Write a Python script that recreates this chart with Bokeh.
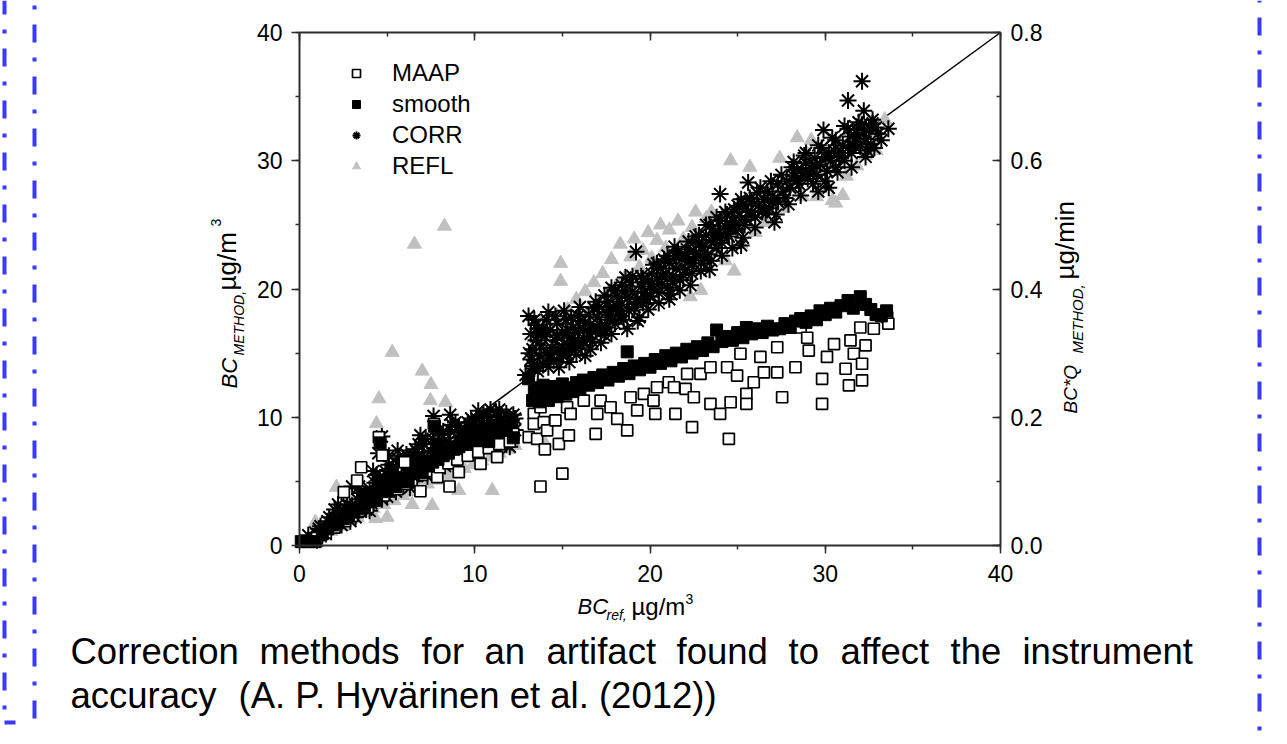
import math
from bokeh.plotting import figure
from bokeh.models import (Range1d, LinearAxis, SingleIntervalTicker, NumeralTickFormatter,
                          CustomJSTickFormatter, Legend, LegendItem, Label, Arrow)
from bokeh.embed import file_html
from bokeh.resources import INLINE

# ---------------- data ----------------
x_ticks = [0, 10, 20, 30, 40]
right_ticks = [0.0, 0.2, 0.4, 0.6, 0.8]
line_x = [0, 40]
line_y = [0, 40]

maap_low = [(0.3,0.3),(1.0,0.6),(1.5,1.0),(2.0,1.4),(2.53,4.16),(2.6,1.9),(3.0,2.3),(3.29,5.07),(3.4,2.7),
            (3.52,6.1),(3.9,3.0),(4.3,3.5),(4.53,8.45),(4.72,7.02),(4.8,3.9),(5.2,4.3),(5.5,5.7),(5.6,4.4),
            (6.0,4.8),(6.0,6.5),(6.4,5.1),(6.9,4.23),(7.0,5.5),(7.5,5.8),(7.67,9.49),(7.86,5.33),(8.0,6.1),
            (8.5,6.4),(8.56,4.6),(9.0,6.7),(9.09,5.72),(9.6,7.0),(10.2,7.3),(10.33,6.37),(10.8,7.6),
            (11.28,6.89),(11.4,7.9),(12.0,8.1),(12.2,8.7)]
maap_high = [(13.08,8.45),(13.37,10.27),(13.37,9.49),(13.56,8.32),(13.75,4.6),(13.75,10.78),(13.94,9.62),
             (14.0,7.5),(14.13,8.97),(14.6,9.75),(14.8,7.93),(15.0,5.6),(15.27,10.78),(15.37,8.58),
             (15.47,10.27),(16.22,11.3),(16.9,8.71),(16.99,10.27),(17.18,11.3),(17.75,10.78),(18.13,9.88),
             (18.7,8.97),(18.89,11.56),(19.27,10.53),(19.65,11.83),(20.2,11.3),(20.3,10.27),(20.4,12.34),
             (21.07,12.73),(21.37,12.34),(21.45,10.27),(22.03,12.21),(22.12,13.38),(22.4,9.23),(22.5,11.56),
             (22.88,13.38),(23.45,11.05),(23.45,13.9),(24.0,10.27),(24.4,13.9),(24.5,8.32),(24.6,11.17),
             (24.97,13.25),(25.16,14.95),(25.5,11.83),(25.5,11.05),(25.92,12.73),(26.3,14.7),(26.5,13.5),
             (27.26,13.5),(27.26,15.46),(27.54,11.56),(28.3,13.9),(28.6,17.0),(28.97,16.2),(29.06,15.2),
             (29.82,13.0),(29.82,11.05),(30.1,14.7),(30.5,15.7),(31.16,13.78),(31.35,12.48),(31.44,16.0),
             (31.63,14.95),(32.0,17.0),(32.1,12.87),(32.1,14.17),(32.3,15.6),(32.77,16.9),(33.53,17.8),
             (33.6,17.3)]

smooth_low = [(0.1,0.3),(0.5,0.3),(0.9,0.3),(1.3,0.9),(1.6,1.3),(1.9,1.6),(2.2,1.8),(2.5,2.1),(2.8,2.3),
              (3.1,2.6),(3.4,2.9),(3.6,4.0),(3.7,3.1),(4.0,3.4),(4.2,3.9),(4.4,3.6),(4.5,5.0),(4.6,8.0),
              (4.7,4.2),(5.0,4.3),(5.2,4.7),(5.3,5.6),(5.5,4.6),(5.8,5.0),(6.0,5.3),(6.2,5.0),(6.5,5.6),
              (6.7,6.6),(6.8,5.9),(7.0,5.7),(7.3,6.2),(7.6,6.5),(7.7,9.3),(7.9,6.7),(8.0,7.8),(8.2,7.0),
              (8.5,7.2),(8.8,7.5),(9.1,7.7),(9.4,8.0),(9.6,8.9),(9.7,8.2),(10.0,8.5),(10.3,8.7),(10.6,9.0),
              (10.8,8.1),(10.9,9.2),(11.2,8.8),(11.5,9.4),(11.8,9.1),(12.1,9.6),(12.2,8.4)]
smooth_high = [(13.07,13.0),(13.3,11.3),(13.4,12.0),(13.5,11.6),(13.6,12.3),(13.7,11.2),(13.8,11.9),
               (13.9,12.5),(14.0,11.5),(14.1,12.1),(14.2,11.3),(14.4,11.8),(14.5,12.4),(14.7,11.6),
               (14.9,12.0),(15.0,12.6),(15.2,11.8),(15.4,12.3),(15.6,12.0),(15.8,12.7),(16.0,12.2),
               (16.2,12.9),(16.5,12.5),(16.8,13.1),(17.0,12.7),(17.3,13.3),(17.6,12.9),(17.9,13.5),
               (18.2,13.2),(18.5,13.8),(18.7,15.1),(18.8,13.4),(19.1,14.0),(19.4,13.7),(19.7,14.2),
               (20.0,13.9),(20.3,14.5),(20.6,14.2),(20.9,14.8),(21.2,14.4),(21.5,15.0),(21.8,14.7),
               (22.1,15.3),(22.4,15.0),(22.7,15.5),(23.0,15.2),(23.3,15.8),(23.6,15.5),(23.8,16.8),
               (24.1,15.9),(24.4,16.3),(24.7,16.0),(25.0,16.6),(25.3,16.2),(25.5,17.0),(25.8,16.5),
               (26.1,16.9),(26.4,16.6),(26.7,17.1),(27.0,16.8),(27.4,16.9),(27.7,17.3),(28.0,17.0),
               (28.3,17.5),(28.6,17.7),(28.9,17.4),(29.2,17.9),(29.5,17.6),(29.7,18.3),(30.0,18.0),
               (30.3,18.5),(30.6,18.2),(30.9,18.7),(31.3,19.1),(31.6,18.5),(32.0,19.4),(32.3,18.8),
               (32.6,18.4),(32.9,18.0),(33.2,17.9),(33.5,18.3)]

corr_low = [(0.5,0.8),(0.9,1.0),(1.0,0.4),(1.2,1.5),(1.4,1.1),(1.6,1.9),(1.8,1.4),(2.0,2.2),(2.1,1.7),
            (2.2,3.2),(2.3,2.5),(2.5,2.0),(2.6,2.9),(2.8,2.4),(3.0,3.1),(3.0,4.6),(3.1,2.6),(3.3,3.6),
            (3.4,2.9),(3.6,3.3),(3.7,4.0),(3.9,3.5),(4.0,4.4),(4.2,3.8),(4.2,5.8),(4.3,4.9),(4.5,4.2),
            (4.5,7.2),(4.6,5.3),(4.7,8.5),(4.8,4.6),(4.9,5.8),(5.0,5.0),(5.1,6.3),(5.3,5.4),(5.4,4.5),
            (5.5,6.0),(5.6,6.8),(5.8,5.6),(5.9,4.9),(6.0,6.4),(6.1,7.1),(6.3,5.9),(6.4,5.2),(6.5,6.7),
            (6.6,7.5),(6.8,6.3),(6.9,5.6),(7.0,7.0),(7.1,7.9),(7.3,6.6),(7.4,6.0),(7.5,7.4),(7.6,8.3),
            (7.65,10.1),(7.8,7.0),(7.9,6.4),(8.0,7.8),(8.1,8.7),(8.3,7.3),(8.4,6.7),(8.5,8.1),(8.6,9.0),
            (8.8,7.6),(8.9,7.0),(9.0,8.4),(9.1,9.3),(9.3,7.9),(9.4,7.3),(9.5,8.7),(9.6,9.6),(9.8,8.2),
            (9.9,7.6),(10.0,9.0),(10.1,9.9),(10.2,7.9),(10.2,10.5),(10.3,8.5),(10.4,9.4),(10.5,10.2),
            (10.6,8.8),(10.8,9.7),(10.9,10.6),(11.0,8.0),(11.1,9.1),(11.3,10.0),(11.3,7.6),(11.5,8.5),
            (11.6,9.5),(11.8,10.3),(11.9,8.9),(12.0,7.7),(12.1,9.8),(12.3,9.0),
            (1.1,1.3),(1.5,0.9),(1.7,2.2),(2.4,1.6),(2.7,3.2),(3.2,2.2),(3.5,4.1),(3.8,2.8),(4.1,3.3),
            (4.4,5.5),(4.7,3.6),(5.2,5.9),(5.5,4.2),(5.7,6.3),(6.0,5.0),(6.2,6.9),(6.5,5.4),(6.7,7.3),
            (7.0,6.1),(7.2,8.3),(7.5,6.5),(7.7,7.6),(8.0,6.9),(8.2,8.9),(8.5,7.5),(8.7,9.4),(9.0,7.7),
            (9.2,8.8),(9.5,8.0),(9.7,9.2),(10.0,8.3),(10.3,9.7),(10.5,8.6),(10.7,10.1),(11.0,9.3),
            (11.2,10.4),(11.5,9.8),(11.7,8.4),(12.0,9.4),(12.2,10.2),(6.9,8.6),(5.1,7.0),(8.6,10.2),
            (2.0,2.8),(2.9,1.9),(3.4,4.6),(4.0,2.7),(5.0,3.8),(5.6,7.4),(6.3,4.5),(6.8,7.9),(7.3,5.4),
            (7.9,8.9),(8.3,6.2),(8.9,9.6),(9.3,7.0),(9.8,9.9),(10.4,7.7),(10.9,9.0),(11.4,10.6),
            (11.8,7.9),(12.3,9.9)]
corr_high = [(12.9,13.3),(13.07,17.9),(13.2,14.5),(13.2,16.5),(13.3,15.3),(13.4,13.8),(13.5,16.0),
             (13.6,16.9),(13.7,14.8),(13.8,15.6),(13.9,14.2),(14.0,16.3),(14.1,15.0),(14.2,13.9),
             (14.3,16.8),(14.4,15.4),(14.5,14.4),(14.6,16.0),(14.7,17.3),(14.8,15.2),(14.9,14.6),
             (15.0,16.6),(15.1,15.7),(15.2,17.6),(15.3,14.9),(15.4,16.2),(15.5,15.4),(15.6,17.0),
             (15.7,16.0),(15.8,14.9),(15.9,16.6),(16.0,17.5),(16.1,15.6),(16.2,16.9),(16.3,14.8),
             (16.4,16.2),(16.5,18.0),(16.6,17.2),(16.7,15.9),(16.9,16.7),(17.0,17.8),(17.1,18.6),
             (17.2,17.1),(17.4,16.4),(17.5,18.2),(17.6,19.0),(17.7,17.6),(17.8,20.1),(17.9,18.6),
             (18.0,17.3),(18.1,19.4),(18.2,18.0),(18.4,18.8),(18.5,17.6),(18.6,20.9),(18.7,19.3),
             (18.8,18.3),(19.0,19.8),(19.1,18.6),(19.2,22.9),(19.3,19.2),(19.4,17.8),(19.5,20.2),
             (19.6,18.9),(19.7,19.7),(19.9,20.6),(20.0,19.4),(20.1,21.2),(20.2,20.0),(20.4,20.8),
             (20.5,19.7),(20.6,21.6),(20.7,20.4),(20.9,21.2),(21.0,20.1),(21.1,22.0),(21.2,19.6),
             (21.3,21.0),(21.4,22.6),(21.5,21.6),(21.7,20.7),(21.8,22.3),(22.0,21.5),(22.1,23.1),
             (22.2,22.2),(22.4,21.2),(22.5,23.0),(22.6,22.5),(22.8,23.6),(22.9,22.0),(23.0,23.3),
             (23.2,24.2),(23.3,22.7),(23.4,21.5),(23.5,23.8),(23.6,24.7),(23.8,23.2),(23.9,24.4),
             (24.0,25.3),(24.0,27.4),(24.1,23.6),(24.3,24.9),(24.4,25.8),(24.5,24.1),(24.7,25.3),
             (24.8,26.2),(25.0,24.7),(25.1,25.7),(25.2,23.4),(25.3,26.6),(25.4,25.0),(25.6,26.0),
             (25.6,28.3),(25.8,26.8),(26.0,25.6),(26.2,26.5),(26.5,27.0),(26.8,26.3),(27.0,27.3),
             (27.1,25.2),(27.3,26.8),(27.6,27.6),(27.8,28.4),(28.0,27.9),(28.2,28.8),(28.4,29.3),
             (28.5,28.2),(28.7,29.0),(28.9,29.8),(29.0,28.6),(29.2,29.4),(29.4,30.2),(29.5,28.9),
             (29.6,27.6),(29.7,29.7),(29.9,32.4),(30.0,30.3),(30.1,29.2),(30.2,27.9),(30.3,30.0),
             (30.5,30.8),(30.6,29.5),(30.8,30.3),(31.0,31.2),(31.1,30.0),(31.3,34.7),(31.3,31.0),
             (31.4,31.9),(31.5,30.6),(31.7,31.5),(31.8,32.4),(32.0,31.1),(32.1,36.2),(32.1,32.8),
             (32.2,33.9),(32.3,31.7),(32.5,32.5),(32.6,31.3),(32.8,31.0),(33.0,32.1),(33.6,32.5),
             (13.3,14.0),(13.5,17.2),(13.8,16.4),(14.1,17.6),(14.4,14.9),(14.7,16.4),(15.0,15.1),
             (15.3,16.8),(15.6,15.8),(15.9,17.9),(16.2,15.9),(16.5,16.6),(16.8,18.5),(17.1,16.9),
             (17.4,19.5),(17.7,18.0),(18.0,19.9),(18.3,17.9),(18.6,19.8),(18.9,20.5),(19.2,19.0),
             (19.5,21.0),(19.8,19.2),(20.1,20.4),(20.4,22.0),(20.7,21.0),(21.0,22.6),(21.3,20.6),
             (21.6,22.9),(21.9,21.1),(22.2,23.7),(22.5,22.0),(22.8,24.2),(23.1,22.4),(23.4,25.0),
             (23.7,23.8),(24.0,24.0),(24.3,26.0),(24.6,24.7),(24.9,25.0),(25.2,27.0),(25.5,25.4),
             (25.8,26.0),(26.1,27.5),(26.4,26.0),(26.7,27.6),(27.0,26.8),(27.3,28.2),(27.7,27.1),
             (28.1,29.5),(28.4,28.5),(28.8,30.4),(29.1,29.0),(29.5,29.6),(29.8,31.0),(30.2,30.6),
             (30.6,31.6),(31.0,30.6),(31.3,32.5),(31.6,31.2),(31.9,33.0),(32.2,32.2),(32.4,30.8),
             (32.7,33.2),(32.9,32.6),(33.2,31.6),
             (13.1,15.0),(13.4,17.6),(13.6,13.6),(13.9,16.9),(14.2,18.2),(14.3,14.6),(14.6,17.9),
             (14.8,13.9),(15.1,18.3),(15.4,14.3),(15.5,17.8),(15.8,15.4),(16.0,18.6),(16.3,17.4),
             (16.6,15.3),(16.9,19.0),(17.2,15.8),(17.5,17.0),(17.8,16.5),(18.1,18.7),(18.4,20.3),
             (18.7,16.9),(19.0,21.0),(19.3,17.5),(19.6,20.8),(19.9,18.4),(20.2,21.9),(20.5,18.9),
             (20.8,22.3),(21.1,19.2),(21.4,23.3),(21.7,19.9),(22.0,22.7),(22.3,20.3),(22.6,24.1),
             (22.9,21.4),(23.2,25.0),(23.5,22.2),(23.8,25.6),(24.1,22.6),(24.4,24.3),(24.7,23.2),
             (25.0,26.5),(25.3,24.0),(25.7,27.1),(26.0,24.8),(26.3,27.9),(26.6,25.9),(26.9,28.4),
             (27.2,25.8),(27.5,28.9),(27.9,26.6),(28.2,29.9),(28.6,27.3),(28.9,30.6),(29.3,28.2),
             (29.6,31.2),(30.0,28.4),(30.4,31.8),(30.7,29.1),(31.1,32.7),(31.5,29.5),(31.9,32.0),
             (32.3,30.3),(32.7,32.9)]

refl_low = [(0.9,1.8),(1.2,1.0),(1.5,1.3),(1.8,1.1),(2.0,1.6),(2.11,4.55),(2.3,1.9),(2.5,1.5),(2.7,2.3),
            (2.9,2.0),(3.0,3.4),(3.1,2.7),(3.3,2.2),(3.6,3.0),(3.8,2.6),(4.0,3.4),(4.2,2.9),(4.2,4.5),
            (4.34,2.1),(4.39,9.5),(4.53,11.44),(4.6,3.7),(4.8,3.2),(5.0,2.2),(5.1,4.0),(5.29,15.07),
            (5.3,5.3),(5.4,3.5),(5.6,4.4),(5.9,3.9),(6.1,4.7),(6.2,6.0),(6.3,4.2),(6.43,3.2),(6.56,23.5),
            (6.6,5.0),(6.8,4.5),(7.0,13.6),(7.1,5.3),(7.2,6.8),(7.3,4.8),(7.47,11.3),(7.5,12.55),
            (7.57,3.12),(7.6,5.6),(7.9,5.1),(8.1,5.9),(8.2,7.4),(8.27,24.9),(8.33,11.17),(8.4,5.4),
            (8.6,6.2),(8.9,5.7),(9.09,4.29),(9.1,6.5),(9.3,8.1),(9.4,6.0),(9.6,6.8),(9.9,6.3),(10.1,7.1),
            (10.3,8.6),(10.4,6.6),(10.6,7.4),(10.9,6.9),(11.0,4.29),(11.1,7.7),(11.3,9.2),(11.4,7.2),
            (11.6,8.0),(11.9,7.5),(12.1,8.3),(12.2,9.7),(12.3,7.8),(14.0,8.0)]
refl_high = [(13.2,14.0),(13.4,16.2),(13.6,15.0),(13.8,17.4),(14.0,14.6),(14.2,16.6),(14.5,15.5),
             (14.7,17.9),(14.9,20.6),(14.9,22.0),(15.1,16.3),(15.3,18.4),(15.6,17.0),(15.8,19.2),
             (16.1,17.6),(16.3,19.8),(16.6,18.3),(16.8,20.5),(17.1,18.9),(17.3,21.2),(17.6,19.6),
             (17.8,22.3),(18.1,20.3),(18.3,23.5),(18.6,21.0),(18.9,22.5),(19.1,23.9),(19.4,21.7),
             (19.6,23.0),(19.9,24.4),(20.1,22.4),(20.4,23.8),(20.6,25.0),(20.9,23.2),(21.1,24.6),
             (21.4,22.1),(21.6,25.3),(21.9,23.9),(22.1,21.2),(22.3,19.4),(22.4,24.8),(22.6,26.0),
             (22.9,19.9),(23.0,22.6),(23.2,25.5),(23.5,26.0),(23.7,23.3),(24.0,24.8),(24.3,22.2),
             (24.6,30.0),(24.8,21.4),(24.9,25.6),(25.2,23.5),(25.5,26.5),(25.7,29.5),(26.0,24.4),
             (26.3,27.0),(26.6,25.2),(27.0,27.8),(27.4,30.2),(27.6,26.3),(28.0,28.4),(28.4,31.8),
             (28.7,27.2),(29.0,30.5),(29.2,31.6),(29.5,27.2),(29.8,29.3),(30.1,28.0),(30.4,26.9),
             (30.6,26.7),(30.9,30.2),(31.0,27.3),(31.2,28.8),(31.5,31.5),(31.8,29.6),(32.0,33.0),
             (32.3,30.4),(32.6,32.2),(32.9,30.8),(33.4,33.2)]

series_names = ["MAAP", "smooth", "CORR", "REFL"]
caption_line1 = ["Correction", "methods", "for", "an", "artifact", "found", "to", "affect", "the", "instrument"]
caption_line2 = ["accuracy", "(A. P. Hyvärinen et al. (2012))"]

def xs(pts): return [a for a, b in pts]
def ys(pts): return [b for a, b in pts]

maap = maap_low + maap_high
smooth = smooth_low + smooth_high
corr = corr_low + corr_high
refl = refl_low + refl_high

# ---------------- layout: the frame is the whole canvas; the chart box sits inside it ----------------
W, H = 1280, 736
FX0, FX1, FY0, FY1 = 299, 1000, 545, 32   # page pixels of x=0, x=40, y=0, y=40
def dx(px): return (px - FX0) * 40.0 / (FX1 - FX0)
def dy(py): return (FY0 - py) * 40.0 / (FY0 - FY1)

FONT = "Liberation Sans"
AX = "#2e2e2e"

p = figure(width=W, height=H, x_range=Range1d(dx(0), dx(W)), y_range=Range1d(dy(H), dy(0)),
           x_axis_type=None, y_axis_type=None, output_backend="svg", toolbar_location=None,
           min_border_left=0, min_border_right=0, min_border_top=0, min_border_bottom=0)
p.outline_line_color = None
p.background_fill_color = "white"
p.border_fill_color = "white"
p.extra_y_ranges = {"right": Range1d(dy(H) * 0.02, dy(0) * 0.02)}

def style(ax, tin, tout, standoff):
    ax.axis_line_color = AX
    ax.axis_line_width = 2
    ax.major_tick_line_color = AX
    ax.major_tick_line_width = 1.5
    ax.minor_tick_line_color = AX
    ax.minor_tick_line_width = 1.5
    ax.major_tick_in = tin
    ax.major_tick_out = tout
    ax.minor_tick_in = tin // 2
    ax.minor_tick_out = tout // 2
    ax.major_label_text_font = FONT
    ax.major_label_text_font_size = "23px"
    ax.major_label_text_color = "black"
    ax.major_label_standoff = standoff

bottom = LinearAxis(fixed_location=0, bounds=(0, 40),
                    ticker=SingleIntervalTicker(interval=10, num_minor_ticks=2))
style(bottom, 0, 8, 11)
p.add_layout(bottom, "below")
left = LinearAxis(fixed_location=0, bounds=(0, 40),
                  ticker=SingleIntervalTicker(interval=10, num_minor_ticks=2))
style(left, 0, 8, 9)
p.add_layout(left, "left")
top = LinearAxis(fixed_location=40, bounds=(0, 40),
                 ticker=SingleIntervalTicker(interval=10, num_minor_ticks=2),
                 formatter=CustomJSTickFormatter(code="return ''"))
style(top, 8, 0, 0)
p.add_layout(top, "above")
right = LinearAxis(y_range_name="right", fixed_location=40, bounds=(0, 0.8),
                   ticker=SingleIntervalTicker(interval=0.2, num_minor_ticks=2),
                   formatter=NumeralTickFormatter(format="0.0"))
style(right, 8, 0, 10)
p.add_layout(right, "right")

# ---------------- data marks ----------------
p.line(line_x, line_y, line_color="black", line_width=1.5)
r_refl = p.scatter(xs(refl), ys(refl), marker="triangle", size=14,
                   fill_color="#c0c0c0", line_color="#c0c0c0")
r_corr = p.scatter(xs(corr), ys(corr), marker="asterisk", size=17, line_color="black", line_width=2)
r_maap = p.scatter(xs(maap), ys(maap), marker="square", size=11, fill_color="white",
                   line_color="black", line_width=1.7)
r_smooth = p.scatter(xs(smooth), ys(smooth), marker="square", size=12,
                     fill_color="black", line_color="black")

legend = Legend(items=[LegendItem(label=series_names[0], renderers=[r_maap]),
                       LegendItem(label=series_names[1], renderers=[r_smooth]),
                       LegendItem(label=series_names[2], renderers=[r_corr]),
                       LegendItem(label=series_names[3], renderers=[r_refl])],
                location=(346, H - 180), padding=0, margin=0, spacing=3,
                glyph_width=20, glyph_height=28, label_height=28, label_standoff=26,
                label_text_font=FONT, label_text_font_size="24px", label_text_color="black",
                border_line_alpha=0, background_fill_alpha=0)
p.add_layout(legend)

# ---------------- texts: (px, baseline) in page pixels, anchored at the text's middle ----------------
def lab(px, base, text, size, style="normal", rotated=False):
    if rotated:   # reads bottom-to-top; glyph tops point left
        ax_, ay_, angle = px - 0.35 * size, base, math.pi / 2
    else:
        ax_, ay_, angle = px, base - 0.35 * size, 0.0
    p.add_layout(Label(x=dx(ax_), y=dy(ay_), x_units="data", y_units="data", text=text,
                       text_font=FONT, text_font_size=f"{size}px", text_font_style=style,
                       text_color="black", text_align="left", text_baseline="middle",
                       angle=angle))

# bottom: BC_ref, µg/m3
lab(577, 614, "BC", 22, "italic")
lab(606, 619, "ref,", 14, "italic")
lab(631, 614, "µg/m", 24)
lab(685, 603, "3", 14)
# left: BC_METHOD, µg/m3 (rotated; px = baseline x, base = start y)
lab(237, 388, "BC", 22, "italic", True)
lab(243, 355, "METHOD,", 14, "italic", True)
lab(236, 290, "µg/m", 26, "normal", True)
lab(220, 226, "3", 14, "normal", True)
# right: BC*Q_METHOD, µg/min (rotated)
lab(1077, 413, "BC*Q", 19, "italic", True)
lab(1082, 353, "METHOD,", 15, "italic", True)
lab(1074, 279, "µg/min", 26, "normal", True)

# ---------------- caption ----------------
line1_x = [70, 259, 421, 484, 546, 676, 788, 840, 950, 1022]
for word, px in zip(caption_line1, line1_x):
    lab(px, 664, word, 36.5)
lab(70, 708, caption_line2[0], 36.5)
lab(238, 708, caption_line2[1], 36.5)

# ---------------- blue dash-dot slide border ----------------
BLUE = "#3838ff"
def seg(px0, py0, px1, py1, dash="18 15 4 15", offset=0):
    p.add_layout(Arrow(start=None, end=None, x_start=dx(px0), y_start=dy(py0), x_end=dx(px1), y_end=dy(py1),
                       start_units="data", end_units="data", line_color=BLUE, line_width=4,
                       line_dash=dash, line_dash_offset=offset))
seg(4, 0, 4, 724, offset=4)
seg(4, 722, 15, 722, dash="solid")
seg(34, 0, 34, 726, offset=28)
seg(1259, 0, 1259, H, offset=35)

open("out.html", "w").write(file_html(p, INLINE))
